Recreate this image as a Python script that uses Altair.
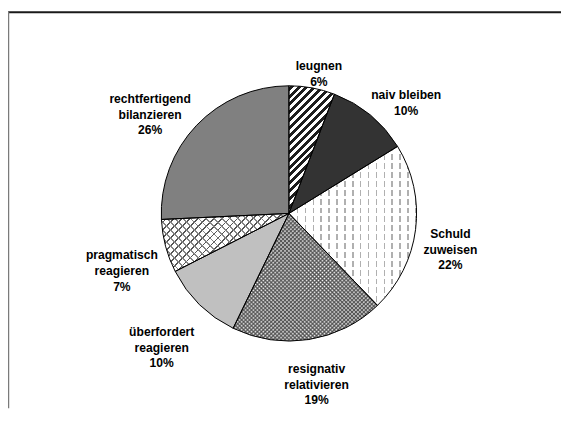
import math
import altair as alt
import pandas as pd

# ---------------- data ----------------
categories = [
    "leugnen",
    "naiv bleiben",
    "Schuld zuweisen",
    "resignativ relativieren",
    "überfordert reagieren",
    "pragmatisch reagieren",
    "rechtfertigend bilanzieren",
]
label_lines = [
    ["leugnen"],
    ["naiv bleiben"],
    ["Schuld", "zuweisen"],
    ["resignativ", "relativieren"],
    ["überfordert", "reagieren"],
    ["pragmatisch", "reagieren"],
    ["rechtfertigend", "bilanzieren"],
]
shares = [5.8, 10.4, 21.6, 19.4, 10.3, 6.75, 25.75]
pct_labels = ["6%", "10%", "22%", "19%", "10%", "7%", "26%"]

# ---------------- layout / style ----------------
R = 129.5            # pie radius (px)
PLOT_W, PLOT_H = 552, 395
FONT = "Liberation Sans"
FONT_SIZE = 12.3
LINE_H = 16
GAP = 8
SQ2 = math.sqrt(2)

# Arial-bold advance widths (per 1000 em) for label-box size estimation
CW = {c: 556 for c in "acekrsvxyz0123456789"}
CW.update({"b": 611, "d": 611, "g": 611, "h": 611, "n": 611, "o": 611, "p": 611,
           "q": 611, "u": 611, "ü": 611, "f": 333, "t": 333, "r": 389, "i": 278,
           "j": 278, "l": 278, "m": 889, "w": 778, "z": 500, " ": 278, "%": 889,
           "S": 667})


def text_w(s):
    return sum(CW.get(c, 556) for c in s) * FONT_SIZE / 1000.0


# label box anchored on the slice's mid-angle ray; anchor point walks round
# the box perimeter with the angle (spreadsheet-style outside-end labels)
PERIM = [(0, 1), (-1, 1), (-1, 0), (-1, -1), (0, -1), (1, -1), (1, 0), (1, 1), (0, 1)]


def perim_pt(theta_deg):
    s = (theta_deg % 360) / 45.0
    k = int(math.floor(s))
    f = s - k
    (x0, y0), (x1, y1) = PERIM[k], PERIM[k + 1]
    return x0 + f * (x1 - x0), y0 + f * (y1 - y0)


df = pd.DataFrame({"cat": categories, "share": shares, "pct": pct_labels})
df["end"] = df["share"].cumsum()
df["start"] = df["end"] - df["share"]
df["mid"] = (df["start"] + df["end"]) / 2
df["label"] = ["\n".join(l + [p]) for l, p in zip(label_lines, pct_labels)]

lab_t, lab_r = [], []
for lines, p, mid in zip(label_lines, pct_labels, df["mid"]):
    allines = lines + [p]
    hw = max(text_w(s) for s in allines) / 2
    hh = (len(allines) - 1) * LINE_H / 2 + 6
    th = mid * 3.6
    a = math.radians(th)
    ax, ay = (R + GAP) * math.sin(a), -(R + GAP) * math.cos(a)
    px, py = perim_pt(th)
    cx, cy = ax - px * hw, ay - py * hh
    lab_r.append(math.hypot(cx, cy))
    lab_t.append((math.degrees(math.atan2(cx, -cy)) % 360) / 3.6)
df["label_t"] = lab_t
df["label_r"] = lab_r


# ---------------- pattern fills via gradients ----------------
def slice_bbox(a0, a1):
    pts = [(0.0, 0.0)]
    angs = [a0, a1] + [q for q in (0, 90, 180, 270, 360) if a0 < q < a1]
    for a in angs:
        t = math.radians(a)
        pts.append((R * math.sin(t), -R * math.cos(t)))
    xs = [p[0] for p in pts]
    ys = [p[1] for p in pts]
    return min(xs), min(ys), max(xs) - min(xs), max(ys) - min(ys)


def grad_frame(a0, a1, normal_deg):
    x0, y0, w, h = slice_bbox(a0, a1)
    nx, ny = math.cos(math.radians(normal_deg)), math.sin(math.radians(normal_deg))
    corners = [(x0, y0), (x0 + w, y0), (x0, y0 + h), (x0 + w, y0 + h)]
    projs = [nx * cx + ny * cy for cx, cy in corners]
    pmin, pmax = min(projs), max(projs)
    S = pmax - pmin
    cx, cy = corners[projs.index(pmin)]
    u1, v1 = (cx - x0) / w, (cy - y0) / h
    D = S ** 2 / (nx ** 2 * w ** 2 + ny ** 2 * h ** 2)
    dx, dy = nx * w * D / S, ny * h * D / S
    g = {"gradient": "linear", "x1": round(u1, 6), "y1": round(v1, 6),
         "x2": round(u1 + dx, 6), "y2": round(v1 + dy, 6)}
    return g, pmin, pmax, S


def stripe_fill(a0, a1, normal_deg, period, width, color, bg):
    g, pmin, pmax, S = grad_frame(a0, a1, normal_deg)
    stops = [{"offset": 0, "color": bg}]
    k = math.floor(pmin / period) - 1
    last = 0.0
    while k * period < pmax:
        s = k * period
        e = s + width
        ts = min(max((s - pmin) / S, 0.0), 1.0)
        te = min(max((e - pmin) / S, 0.0), 1.0)
        ts = max(round(ts, 6), last)
        te = max(round(te, 6), ts)
        if te > ts:
            stops += [{"offset": ts, "color": bg}, {"offset": ts, "color": color},
                      {"offset": te, "color": color}, {"offset": te, "color": bg}]
            last = te
        k += 1
    stops.append({"offset": 1, "color": bg})
    g["stops"] = stops
    return g


def soft_fill(a0, a1, normal_deg, period, color, bg):
    # triangle-wave stripes: robust against pixel-grid beating
    g, pmin, pmax, S = grad_frame(a0, a1, normal_deg)
    stops = []
    k = math.floor(pmin / period) - 1
    while k * period < pmax + period:
        for off, col in ((0.0, color), (0.5, bg)):
            t = (k * period + off * period - pmin) / S
            if 0.0 <= t <= 1.0:
                stops.append({"offset": round(t, 6), "color": col})
        k += 1
    g["stops"] = stops
    return g


CLEAR = "rgba(255,255,255,0)"


def fills_for(i, a0, a1):
    if i == 0:   # wide upward diagonal
        return [stripe_fill(a0, a1, 45, 4 * SQ2, 2 * SQ2, "#1e1e1e", "#ffffff")]
    if i == 1:
        return ["#333333"]
    if i == 2:   # light vertical dashes
        return [stripe_fill(a0, a1, 0, 8, 1.6, "#b0b0b0", "#ffffff"),
                stripe_fill(a0, a1, 90, 9, 3.0, "#ffffff", CLEAR)]
    if i == 3:   # fine diagonal cross-hatch (gray grid, white diamonds)
        return ["#ffffff",
                soft_fill(a0, a1, 45, 2 * SQ2, "rgba(70,70,70,0.85)", "rgba(70,70,70,0)"),
                soft_fill(a0, a1, 135, 2 * SQ2, "rgba(70,70,70,0.85)", "rgba(70,70,70,0)")]
    if i == 4:
        return ["#c0c0c0"]
    if i == 5:   # diagonal brick
        return ["#ffffff",
                stripe_fill(a0, a1, 45, 4 * SQ2, 1.3, "#555555", CLEAR),
                stripe_fill(a0, a1, 135, 4 * SQ2, 1.3, "#858585", CLEAR)]
    return ["#808080"]


theta_scale = alt.Scale(domain=[0, 100])
base = alt.Chart(df)

layers = []
for i, row in df.iterrows():
    a0, a1 = row["start"] * 3.6, row["end"] * 3.6
    for f in fills_for(i, a0, a1):
        layers.append(
            base.transform_filter(alt.datum.cat == row["cat"])
            .mark_arc(radius=R, fill=f, strokeWidth=0)
            .encode(theta=alt.Theta("start:Q", scale=theta_scale, stack=None),
                    theta2="end:Q")
        )

outline = base.mark_arc(radius=R, fillOpacity=0, stroke="#000000", strokeWidth=1).encode(
    theta=alt.Theta("start:Q", scale=theta_scale, stack=None), theta2="end:Q"
)

labels = base.mark_text(
    font=FONT, fontWeight="bold", fontSize=FONT_SIZE, lineBreak="\n",
    lineHeight=LINE_H, align="center", baseline="middle", color="#000000",
).encode(
    theta=alt.Theta("label_t:Q", scale=theta_scale, stack=None),
    radius=alt.Radius("label_r:Q", scale=None),
    text="label:N",
)

one = alt.Chart(pd.DataFrame({"k": [0]}))
frame_top = one.mark_rule(color="#1a1a1a", strokeWidth=2).encode(
    x=alt.value(-9), x2=alt.value(PLOT_W), y=alt.value(-6.5)
)
frame_left = one.mark_rule(color="#7a7a7a", strokeWidth=1.5).encode(
    x=alt.value(-8.5), y=alt.value(-7.5), y2=alt.value(PLOT_H)
)

chart = (
    alt.layer(*layers, outline, labels, frame_top, frame_left)
    .properties(
        width=PLOT_W, height=PLOT_H,
        padding={"left": 9, "top": 8, "right": 0, "bottom": 0},
        autosize=alt.AutoSizeParams(type="none"),
        background="#ffffff",
    )
    .configure_view(strokeWidth=0)
)

chart.save("out.html", embed_options={"renderer": "svg", "actions": False})
